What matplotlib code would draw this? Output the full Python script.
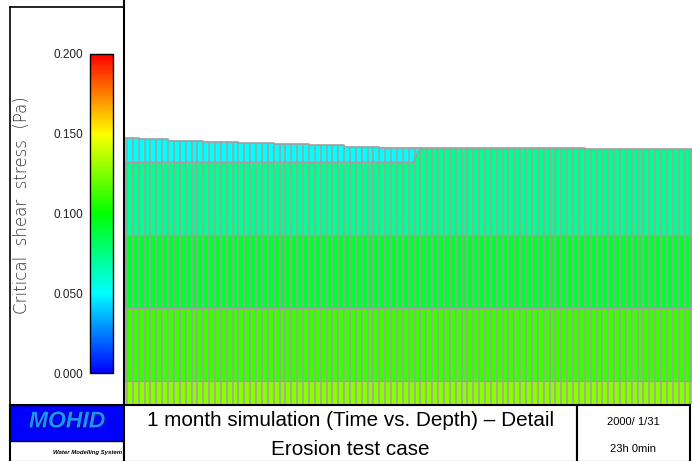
import numpy as np
import matplotlib
matplotlib.use('Agg')
import matplotlib.pyplot as plt
import matplotlib.patheffects as pe
from matplotlib.colors import LinearSegmentedColormap, Normalize
from matplotlib.cm import ScalarMappable
from matplotlib.patches import Rectangle

plt.rcParams['font.family'] = ['Liberation Sans', 'DejaVu Sans']

W, H = 692, 461

# output times (one cell per 8 h output)
n_out = 98
# bed surface level (mm above base) for blocks of outputs
surf_counts = [3, 5, 6, 6, 6, 6, 6, 6, 7, 28, 19]
surf_level = [265.7, 264.7, 263.3, 262.0, 261.0, 259.7, 258.7, 257.3, 256.4, 255.5, 254.7]
# layer tops (mm), from the base upward
layer_tops = [23.0, 96.0, 168.5, 241.7]
# critical shear stress of each layer (Pa), base layer first, top layer last
layer_tau = [0.127, 0.111, 0.091, 0.072, 0.050]
top_layer_gone = 49.2   # time index where the top layer starts to vanish
top_layer_end = 50.5

tau_ticks = [0.0, 0.05, 0.10, 0.15, 0.20]

cmap = LinearSegmentedColormap.from_list(
    'mohid', ['#0000ff', '#00ffff', '#00ff00', '#ffff00', '#ff0000'])
norm = Normalize(0.0, 0.2)
grid_col = '#a0a0a0'


def px_axes(x0, y0, x1, y1):
    return fig.add_axes([x0 / W, 1 - y1 / H, (x1 - x0) / W, (y1 - y0) / H])


fig = plt.figure(figsize=(W / 100, H / 100), dpi=100)

# ---- main section plot ----
ax = px_axes(124, 0, 692, 404)
surf = np.repeat(surf_level, surf_counts)
edges = np.arange(n_out + 1) - 0.5
surf_step = np.append(surf, surf[-1])

bounds = [0.0] + layer_tops[:3]
for i in range(3):
    ax.fill_between(edges, bounds[i], layer_tops[i], color=cmap(norm(layer_tau[i])),
                    lw=0)
ax.fill_between(edges, layer_tops[2], surf_step, step='post',
                color=cmap(norm(layer_tau[3])), lw=0)

# top (cyan) layer, vanishing around index 50
k = int(top_layer_end + 0.5)
ux = np.repeat(edges[:k + 1], 2)[1:-1]
uy = np.repeat(surf[:k], 2)
px = np.concatenate([ux, [top_layer_gone, edges[0]]])
py = np.concatenate([uy, [layer_tops[3], layer_tops[3]]])
ax.fill(px, py, color=cmap(norm(layer_tau[4])), lw=0)

# cell grid
for i in range(3):
    ax.plot([edges[0], edges[-1]], [layer_tops[i]] * 2, color=grid_col, lw=1.0)
ax.plot([edges[0], top_layer_gone, top_layer_end], [layer_tops[3], layer_tops[3], surf[k - 1]],
        color=grid_col, lw=1.0)
ax.step(edges, surf_step, where='post', color=grid_col, lw=1.2)
tops = np.maximum(surf_step[:-1], np.append(surf[1:], surf[-1]))
vl = ax.vlines(edges[1:], 0, tops, color=grid_col, lw=1.1)
vl.set_snap(True)

ax.set_xlim(0, 568 / 5.87)
ax.set_ylim(0, 404)
ax.set_xticks([])
ax.set_yticks([])
for s in ['top', 'right', 'bottom']:
    ax.spines[s].set_visible(False)
ax.spines['left'].set_linewidth(1.5)
ax.patch.set_alpha(0)

# ---- colour bar panel ----
panel = px_axes(10, 7, 124, 405)
panel.set_xticks([])
panel.set_yticks([])
for s in panel.spines.values():
    s.set_linewidth(1.2)
panel.set_zorder(-1)

cax = px_axes(90, 54, 113, 373)
cb = fig.colorbar(ScalarMappable(norm=norm, cmap=cmap), cax=cax, ticks=tau_ticks)
cax.yaxis.set_ticks_position('left')
cax.set_yticklabels(['%.3f' % t for t in tau_ticks])
cax.tick_params(length=0, pad=5, labelsize=8.5, colors='#222222')
cb.outline.set_linewidth(1.0)
fig.text(22 / W, 1 - 205 / H, 'Critical  shear  stress  (Pa)', rotation=90,
         ha='center', va='center', fontsize=12, color='#333333',
         family='DejaVu Sans', fontweight='light')

# ---- bottom title boxes ----
box = px_axes(10, 405, 124, 462)
box.add_patch(Rectangle((0, 0.37), 1, 0.63, facecolor='#0000ff', edgecolor='black', lw=1))
box.text(0.5, 0.72, 'MOHID', ha='center', va='center', fontsize=16.5, fontweight='bold',
         style='italic', color='#1e90ff', transform=box.transAxes,
         path_effects=[pe.withStroke(linewidth=1.2, foreground='#000090')])
box.text(0.98, 0.16, 'Water Modelling System', ha='right', va='center', fontsize=4.3,
         fontweight='bold', style='italic', transform=box.transAxes)

tbox = px_axes(124, 405, 577, 462)
tbox.text(0.5, 0.73, '1 month simulation (Time vs. Depth) \u2013 Detail', ha='center',
          va='center', fontsize=14.9, transform=tbox.transAxes)
tbox.text(0.5, 0.22, 'Erosion test case', ha='center', va='center', fontsize=14.9,
          transform=tbox.transAxes)

dbox = px_axes(577, 405, 690, 462)
dbox.text(0.5, 0.7, '2000/ 1/31', ha='center', va='center', fontsize=8,
          transform=dbox.transAxes)
dbox.text(0.5, 0.22, '23h 0min', ha='center', va='center', fontsize=8,
          transform=dbox.transAxes)

for b in [box, tbox, dbox]:
    b.set_xlim(0, 1)
    b.set_ylim(0, 1)
    b.set_xticks([])
    b.set_yticks([])
    for s in b.spines.values():
        s.set_linewidth(1.5)

fig.savefig('out.png', dpi=100)
